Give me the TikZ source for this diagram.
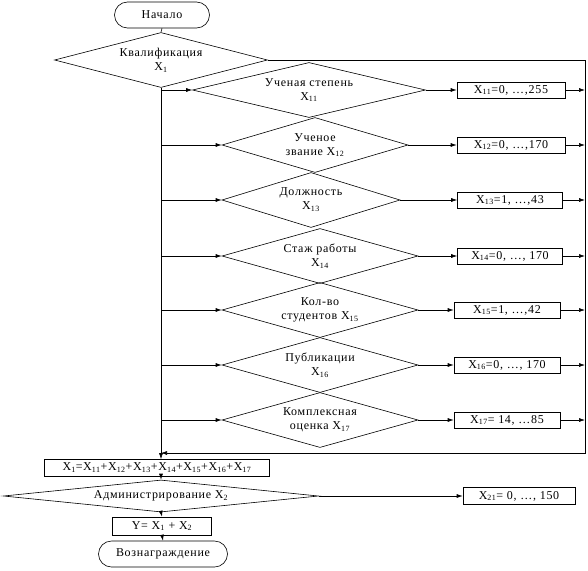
\documentclass[tikz,border=0pt]{standalone}
\usepackage{fontspec}
\setmainfont{Liberation Serif}[LetterSpace=6]
\usetikzlibrary{shapes.geometric,shapes.misc,arrows.meta}

\tikzset{
  term/.style={draw, rounded rectangle, inner sep=2pt},
  romb/.style={draw, diamond, inner sep=0pt, align=center, shape aspect=4, minimum height=55pt},
  res/.style={draw, rectangle, inner sep=1pt, minimum height=16pt}
}

\begin{document}
\begin{tikzpicture}[x=1pt, y=-1pt, line width=0.6pt, >={Latex[length=6pt,width=4pt]},
  every node/.style={font=\fontsize{12}{14}\selectfont}]
\useasboundingbox (0,0) rectangle (588,570);

% Start and the first test
\node[term, minimum width=99pt, minimum height=26pt] (start) at (162,15) {Начало};
\node[romb, minimum width=213pt] (kval) at (161,60) {Квалификация\\X\textsubscript{1}};

% Criteria
\node[romb, minimum width=233pt] (d11) at (309,90) {Ученая степень\\X\textsubscript{11}};
\node[romb, minimum width=186pt] (d12) at (315,145) {Ученое\\звание X\textsubscript{12}};
\node[romb, minimum width=178pt] (d13) at (311,200) {Должность\\X\textsubscript{13}};
\node[romb, minimum width=196pt] (d14) at (320,256) {Стаж работы\\X\textsubscript{14}};
\node[romb, minimum width=196pt] (d15) at (320,310) {Кол-во\\студентов X\textsubscript{15}};
\node[romb, minimum width=196pt] (d16) at (320,365) {Публикации\\X\textsubscript{16}};
\node[romb, minimum width=196pt] (d17) at (320,420) {Комплексная\\оценка X\textsubscript{17}};

% Value ranges
\node[res, minimum width=108pt] (r11) at (511,90) {X\textsubscript{11}=0, …,255};
\node[res, minimum width=108pt] (r12) at (511,145) {X\textsubscript{12}=0, …,170};
\node[res, minimum width=105pt] (r13) at (510,200) {X\textsubscript{13}=1, …,43};
\node[res, minimum width=105pt] (r14) at (510,256) {X\textsubscript{14}=0, …, 170};
\node[res, minimum width=106pt] (r15) at (507,310) {X\textsubscript{15}=1, …,42};
\node[res, minimum width=106pt] (r16) at (507,365) {X\textsubscript{16}=0, …, 170};
\node[res, minimum width=106pt] (r17) at (507,420) {X\textsubscript{17}= 14, …85};

\coordinate (railtop) at (585,60);
\coordinate (railbot) at (585,453);

% Lower part
\node[res, minimum width=225pt, minimum height=17pt] (sum) at (157,468)
  {X\textsubscript{1}=X\textsubscript{11}+X\textsubscript{12}+X\textsubscript{13}+X\textsubscript{14}+X\textsubscript{15}+X\textsubscript{16}+X\textsubscript{17}};
\node[romb, shape aspect=9, minimum width=315pt, minimum height=32pt] (adm) at (161,496) {Администрирование X\textsubscript{2}};
\node[res, minimum width=112pt, minimum height=17pt] (r21) at (519,496) {X\textsubscript{21}= 0, …, 150};
\node[res, minimum width=99pt, minimum height=18pt] (ybox) at (162,526) {Y= X\textsubscript{1} + X\textsubscript{2}};
\node[term, minimum width=133pt, minimum height=26pt] (reward) at (163,554) {Вознаграждение};

% Connectors
\draw (start.south) -- (kval.north);
\draw[->] (kval.south) -- (kval.south |- sum.north);
\draw[->] (kval.east) -- (railtop) -- (railbot) -- (kval.south |- railbot);
\foreach \d in {11,...,17} {
  \draw[->] (kval.south |- d\d.west) -- (d\d.west);
  \draw[->] (d\d.east) -- (r\d.west);
  \draw[->] (r\d.east) -- (railtop |- r\d.east);
}
\draw[->] (adm.north |- sum.south) -- (adm.north);
\draw[->] (adm.east) -- (r21.west);
\draw[->] (adm.south) -- (ybox.north);
\draw[->] (ybox.south) -- (reward.north);

\end{tikzpicture}
\end{document}
